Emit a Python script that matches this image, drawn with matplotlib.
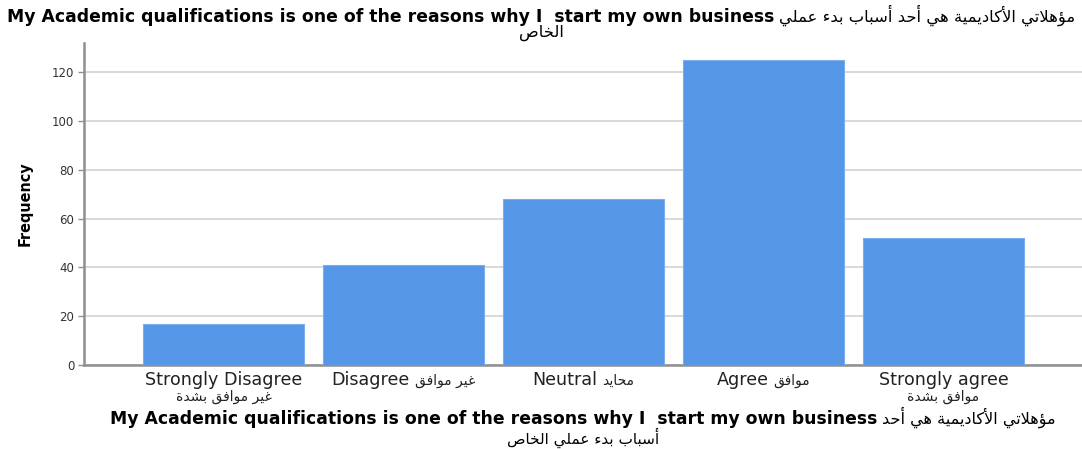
import matplotlib
matplotlib.use('Agg')
import matplotlib.pyplot as plt
from matplotlib import font_manager as fm
from matplotlib.transforms import IdentityTransform

# ---------------- data ----------------
categories_en = ['Strongly Disagree', 'Disagree', 'Neutral', 'Agree', 'Strongly agree']
categories_ar = ['غير موافق بشدة', 'غير موافق', 'محايد', 'موافق', 'موافق بشدة']
arabic_on_second_line = [True, False, False, False, True]
frequencies = [17, 41, 68, 125, 52]
y_ticks = [0, 20, 40, 60, 80, 100, 120]
title_en = 'My Academic qualifications is one of the reasons why I  start my own business'
title_ar = 'مؤهلاتي الأكاديمية هي أحد أسباب بدء عملي الخاص'
y_label = 'Frequency'

# ---------------- Arabic shaping (contextual forms + RTL order) ----------------
FORMS = {
    'ا': (0xFE8D, 0xFE8E, None, None), 'أ': (0xFE83, 0xFE84, None, None),
    'ب': (0xFE8F, 0xFE90, 0xFE91, 0xFE92), 'ة': (0xFE93, 0xFE94, None, None),
    'ت': (0xFE95, 0xFE96, 0xFE97, 0xFE98), 'ح': (0xFEA1, 0xFEA2, 0xFEA3, 0xFEA4),
    'خ': (0xFEA5, 0xFEA6, 0xFEA7, 0xFEA8), 'د': (0xFEA9, 0xFEAA, None, None),
    'ر': (0xFEAD, 0xFEAE, None, None), 'س': (0xFEB1, 0xFEB2, 0xFEB3, 0xFEB4),
    'ش': (0xFEB5, 0xFEB6, 0xFEB7, 0xFEB8), 'ص': (0xFEB9, 0xFEBA, 0xFEBB, 0xFEBC),
    'ع': (0xFEC9, 0xFECA, 0xFECB, 0xFECC), 'غ': (0xFECD, 0xFECE, 0xFECF, 0xFED0),
    'ف': (0xFED1, 0xFED2, 0xFED3, 0xFED4), 'ق': (0xFED5, 0xFED6, 0xFED7, 0xFED8),
    'ك': (0xFED9, 0xFEDA, 0xFEDB, 0xFEDC), 'ل': (0xFEDD, 0xFEDE, 0xFEDF, 0xFEE0),
    'م': (0xFEE1, 0xFEE2, 0xFEE3, 0xFEE4), 'ه': (0xFEE9, 0xFEEA, 0xFEEB, 0xFEEC),
    'و': (0xFEED, 0xFEEE, None, None), 'ؤ': (0xFE85, 0xFE86, None, None),
    'ي': (0xFEF1, 0xFEF2, 0xFEF3, 0xFEF4), 'ء': (0xFE80, None, None, None),
    'LA': (0xFEFB, 0xFEFC, None, None), 'LAH': (0xFEF7, 0xFEF8, None, None),
}


def shape(s):
    toks, i = [], 0
    while i < len(s):
        c = s[i]
        if c == 'ل' and i + 1 < len(s) and s[i + 1] in 'اأ':
            toks.append('LA' if s[i + 1] == 'ا' else 'LAH')
            i += 2
        else:
            toks.append(c)
            i += 1

    def dual(t):
        f = FORMS.get(t)
        return f is not None and f[2] is not None

    def joins(t):
        f = FORMS.get(t)
        return f is not None and f[1] is not None

    out = []
    for k, t in enumerate(toks):
        f = FORMS.get(t)
        if f is None:
            out.append(t)
            continue
        prev = toks[k - 1] if k > 0 else None
        nxt = toks[k + 1] if k + 1 < len(toks) else None
        jp = prev is not None and dual(prev) and joins(t)
        jn = nxt is not None and dual(t) and joins(nxt)
        cp = f[3] if (jp and jn) else f[1] if jp else f[2] if jn else f[0]
        out.append(chr(cp))
    return ''.join(out)[::-1]


def has_font(name):
    try:
        fm.findfont(fm.FontProperties(family=name), fallback_to_default=False)
        return True
    except Exception:
        return False


narrow = 'Liberation Sans Narrow' if has_font('Liberation Sans Narrow') else 'DejaVu Sans'
plt.rcParams['font.family'] = ['DejaVu Sans']

# ---------------- figure ----------------
W, H = 1082, 449
fig = plt.figure(figsize=(W / 100, H / 100), dpi=100)
ax = fig.add_axes([84 / W, (H - 365) / H, (W - 84) / W, (365 - 43) / H])

x = list(range(len(categories_en)))
ax.bar(x, frequencies, width=0.895, color='#5596e6', edgecolor='#7aaef0',
       linewidth=0.8, zorder=3)
ax.set_xlim(-0.775, 4.77)
ax.set_ylim(0, 132)
ax.set_yticks(y_ticks)
ax.yaxis.grid(True, color='#d6d6d6', linewidth=1.3, zorder=0)
ax.set_axisbelow(True)
for s in ['top', 'right']:
    ax.spines[s].set_visible(False)
for s in ['left', 'bottom']:
    ax.spines[s].set_color('#8f8f8f')
    ax.spines[s].set_linewidth(1.8)
ax.tick_params(axis='y', length=4, width=1, color='#8f8f8f', labelsize=8.5,
               labelcolor='#333333', pad=3)
ax.set_xticks(x)
ax.set_xticklabels([''] * len(x))
ax.tick_params(axis='x', length=0)

renderer = fig.canvas.get_renderer()


def place_line(parts, cx, y, gap=5):
    """parts: list of (text, kwargs); centred on cx (pixels), baseline y (pixels from bottom)."""
    texts = [fig.text(0, 0, t, transform=IdentityTransform(), ha='left',
                      va='baseline', **kw) for t, kw in parts]
    widths = [t.get_window_extent(renderer).width for t in texts]
    total = sum(widths) + gap * (len(texts) - 1)
    xx = cx - total / 2
    for t, w in zip(texts, widths):
        t.set_position((xx, y))
        xx += w + gap
    return texts


en_bold_title = dict(fontsize=12.4, fontweight='bold', color='black')
ar_title = dict(fontsize=11.8, color='black')
ar_words = title_ar.split(' ')

# title (centred on figure)
place_line([(title_en, en_bold_title), (shape(' '.join(ar_words[:7])), ar_title)], W / 2, H - 22)
place_line([(shape(' '.join(ar_words[7:])), ar_title)], W / 2, H - 37)

# x tick labels
tick_en = dict(fontsize=12.6, color='#222222')
tick_ar = dict(fontsize=10.0, color='#222222')
for i, (en, ar, wrap) in enumerate(zip(categories_en, categories_ar, arabic_on_second_line)):
    cx = ax.transData.transform((x[i], 0))[0]
    if wrap:
        place_line([(en, tick_en)], cx, H - 385)
        place_line([(shape(ar), tick_ar)], cx, H - 401)
    else:
        place_line([(en, tick_en), (shape(ar), tick_ar)], cx, H - 385)

# x axis title (centred on axes)
axcx = ax.transAxes.transform((0.5, 0))[0]
en_bold_xl = dict(fontsize=12.4, fontweight='bold', color='black')
ar_xl = dict(fontsize=11.6, color='black')
ar_xl2 = dict(fontsize=11.0, color='black')
place_line([(title_en, en_bold_xl), (shape(' '.join(ar_words[:4])), ar_xl)], axcx, H - 424)
place_line([(shape(' '.join(ar_words[4:])), ar_xl2)], axcx, H - 444)

# y axis title
fig.text(25, H - 204, y_label, transform=IdentityTransform(), rotation=90,
         ha='center', va='center', fontsize=11.5, fontweight='bold',
         family=narrow, fontstretch='condensed', color='black')

fig.savefig('out.png', dpi=100)
